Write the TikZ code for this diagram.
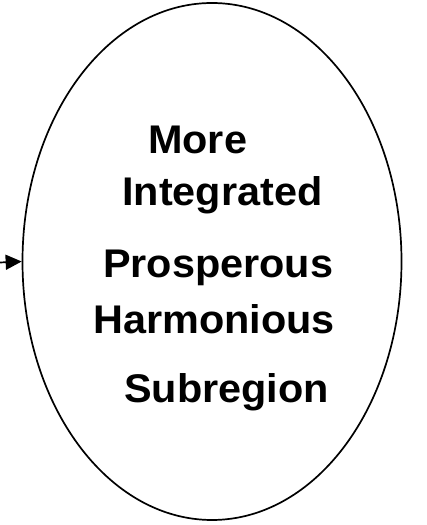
\documentclass[tikz,border=0pt]{standalone}
\usepackage{fontspec}
\usepackage{graphicx}
\setmainfont{Liberation Sans}
\usetikzlibrary{arrows.meta,shapes.geometric}

\tikzset{
  word/.style={anchor=base west, inner sep=0pt, font=\fontsize{40}{46}\selectfont\bfseries},
}

\begin{document}
\begin{tikzpicture}[x=1pt,y=1pt]
  \useasboundingbox (0,0) rectangle (427,525);
  \node[draw, line width=1.7pt, ellipse, minimum width=379pt, minimum height=517pt, inner sep=0pt] (goal) at (212,263.5) {};
  \coordinate (start) at (0,262.5) ;
  \draw[line width=1.7pt, -{Triangle[length=16pt,width=15pt]}] (start) -- (goal.west) ;
  \node[word] (more) at (148,371) {\scalebox{1.035}[1]{More}} ;
  \node[word] (integ) at (122,319) {\scalebox{1.035}[1]{Integrated}} ;
  \node[word] (prosp) at (103,247) {\scalebox{1.035}[1]{Prosperous}} ;
  \node[word] (harm) at (93,191) {\scalebox{1.035}[1]{Harmonious}} ;
  \node[word] (subr) at (124,122) {\scalebox{1.035}[1]{Subregion}} ;
\end{tikzpicture}
\end{document}
